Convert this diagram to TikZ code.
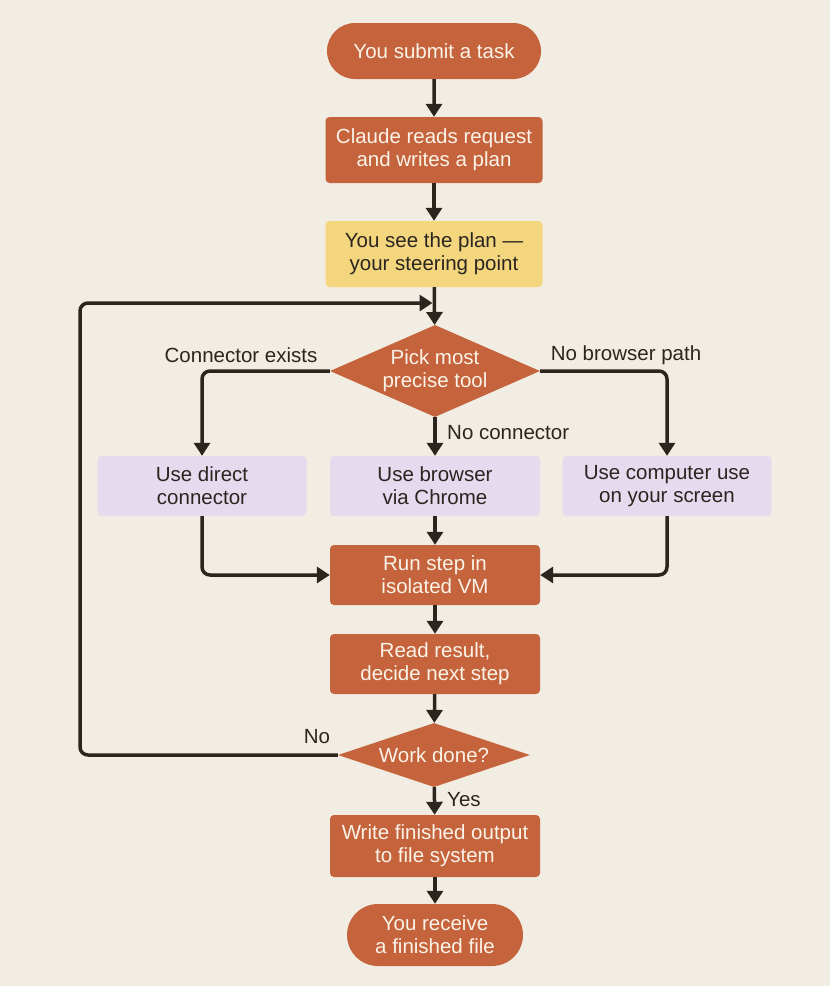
\documentclass[tikz,border=0pt]{standalone}
\usepackage{fontspec}
\setmainfont{Liberation Sans}
\usepackage{tikz}
\usetikzlibrary{arrows.meta,positioning,shapes.geometric,shapes.misc}
\definecolor{paper}{HTML}{F2EDE2}
\definecolor{rust}{HTML}{C4633C}
\definecolor{butter}{HTML}{F3D67E}
\definecolor{lilac}{HTML}{E6DAEE}
\definecolor{ink}{HTML}{2B2520}
\definecolor{cream}{HTML}{FBF3E8}

\begin{document}
\begin{tikzpicture}[x=1pt,y=-1pt,font=\fontsize{20.5}{23}\selectfont,
  step box/.style={rectangle,rounded corners=4pt,fill=rust,text=cream,align=center,
    minimum width=210pt,minimum height=60pt,inner sep=2pt},
  term box/.style={rounded rectangle,fill=rust,text=cream,align=center,
    minimum height=56pt,inner sep=2pt},
  tool box/.style={rectangle,rounded corners=4pt,fill=lilac,text=ink,align=center,
    minimum width=209pt,minimum height=60pt,inner sep=2pt},
  ask box/.style={diamond,fill=rust,text=cream,align=center,inner sep=0pt},
  tag/.style={text=ink,inner sep=1pt},
  flow/.style={draw=ink,line width=3.5pt,-{Triangle[width=16pt,length=13pt]}}]
  \fill[paper] (0,0) rectangle (830,986);
  \useasboundingbox (0,0) rectangle (830,986);
  % main column
  \node[term box,minimum width=218pt] (submit) at (434,51) {You submit a task};
  \node[step box,minimum width=217pt,minimum height=66pt] (plan) at (434,150) {Claude reads request\\and writes a plan};
  \node[step box,fill=butter,text=ink,minimum width=217pt,minimum height=66pt] (steer) at (434,254) {You see the plan ---\\your steering point};
  \node[ask box,aspect=2.28,inner sep=-4pt,minimum width=210pt,minimum height=92pt] (pick) at (435,371) {Pick most\\precise tool};
  % three tools
  \node[tool box] (direct) at (202,486) {Use direct\\connector};
  \node[tool box,minimum width=210pt] (browser) at (435,486) {Use browser\\via Chrome};
  \node[tool box] (screen) at (667,486) {Use computer use\\on your screen};
  \node[step box] (run) at (435,575) {Run step in\\isolated VM};
  \node[step box] (read) at (435,664) {Read result,\\decide next step};
  \node[ask box,aspect=3,minimum width=192pt,minimum height=64pt] (done) at (434,755) {Work done?};
  \node[step box,minimum height=62pt] (write) at (435,846) {Write finished output\\to file system};
  \node[term box,minimum width=180pt,minimum height=62pt] (finish) at (435,935) {You receive\\a finished file};
  \coordinate (merge) at (434,303);
  \coordinate (back) at (80,303);
  % connectors
  \draw[flow] (submit) -- (plan);
  \draw[flow] (plan) -- (steer);
  \draw[flow] (steer) -- (pick);
  \draw[flow,rounded corners=8pt] (pick.west) -| (direct.north);
  \draw[flow] (pick) -- (browser);
  \draw[flow,rounded corners=8pt] (pick.east) -| (screen.north);
  \draw[flow,rounded corners=8pt] (direct.south) |- (run.west);
  \draw[flow] (browser) -- (run);
  \draw[flow,rounded corners=8pt] (screen.south) |- (run.east);
  \draw[flow] (run) -- (read);
  \draw[flow] (read) -- (done);
  \draw[flow] (done) -- (write);
  \draw[flow] (write) -- (finish);
  \draw[flow,rounded corners=8pt] (done.west) -| (back) -- ([xshift=-1.5pt]merge);
  % branch labels
  \node[tag] (l1) at (241,355) {Connector exists};
  \node[tag] (l2) at (626,355) {No browser path};
  \node[tag,anchor=west] (l3) at (446,433) {No connector};
  \node[tag] (l4) at (317,737) {No};
  \node[tag,anchor=west] (l5) at (446,800) {Yes};
\end{tikzpicture}
\end{document}
